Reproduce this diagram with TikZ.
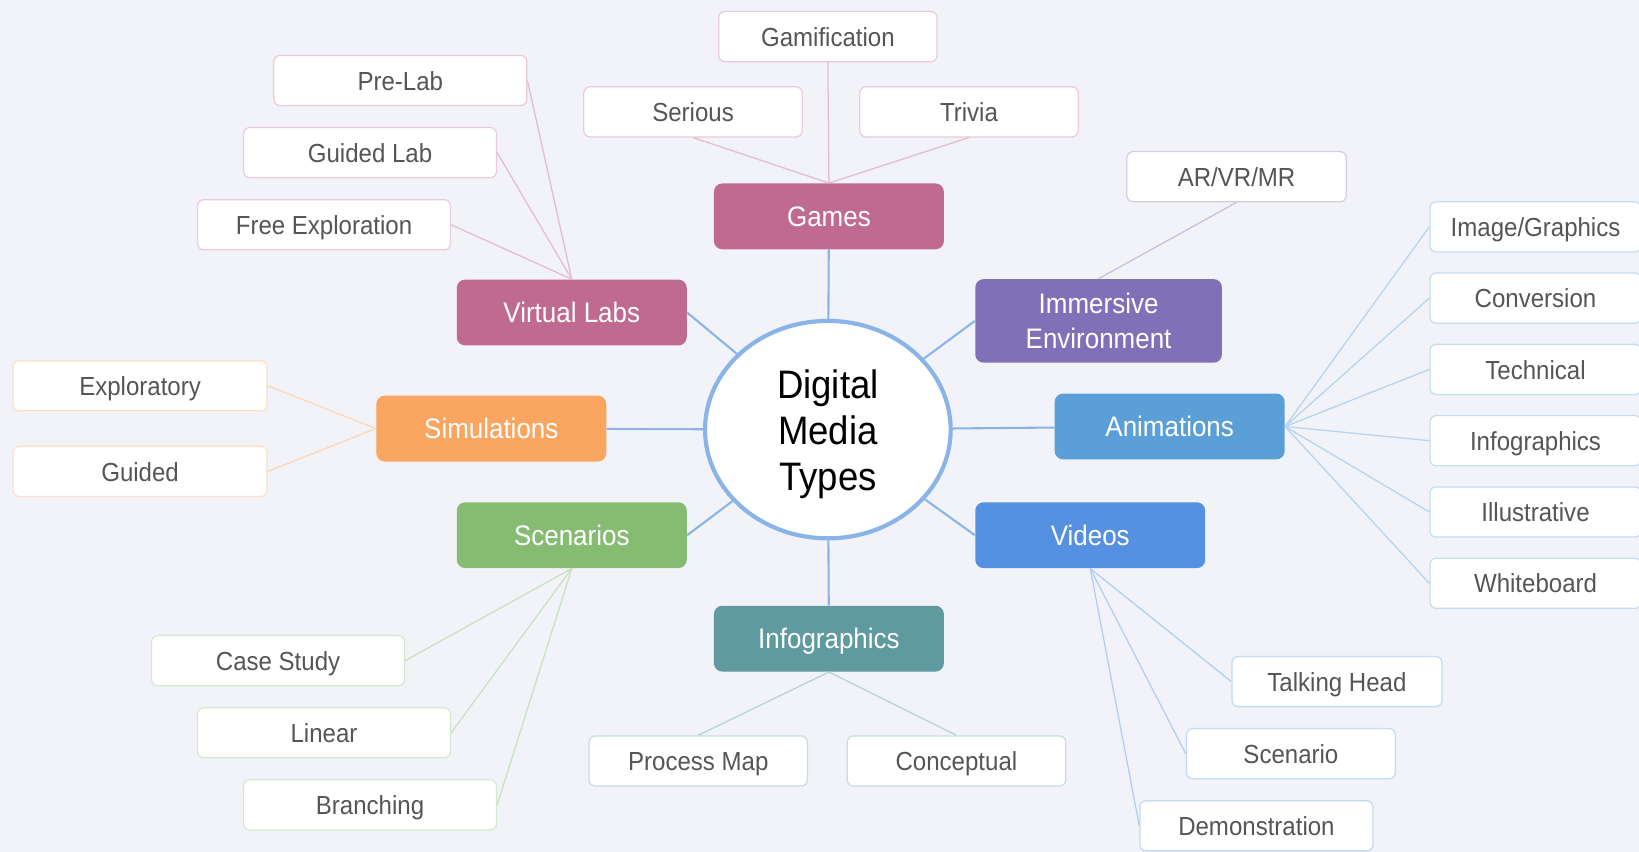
\documentclass[tikz,border=0pt]{standalone}
\usepackage{fontspec}
\setmainfont{Liberation Sans}[FakeStretch=0.92]
\usetikzlibrary{shapes.geometric}

\definecolor     {bgColor}{RGB}{241, 243, 248}
\definecolor    {hubColor}{RGB}{138, 180, 232}
\definecolor    {leafText}{RGB}{ 85,  85,  85}
\definecolor  {gamesColor}{RGB}{192, 106, 145}
\definecolor  {immerColor}{RGB}{128, 112, 184}
\definecolor    {simColor}{RGB}{250, 166,  96}
\definecolor   {animColor}{RGB}{ 90, 159, 216}
\definecolor   {scenColor}{RGB}{134, 188, 114}
\definecolor  {videoColor}{RGB}{ 85, 145, 224}
\definecolor   {infoColor}{RGB}{ 94, 154, 160}
\tikzset{
  topic/.style={rectangle, rounded corners=4pt, fill=#1, text=white, align=center,
    minimum width=110pt, minimum height=31.5pt, inner sep=0pt,
    text height=11pt, text depth=1.3pt,
    font=\fontsize{13.5}{16.5}\selectfont},
  leaf/.style n args={2}{rectangle, rounded corners=3pt, fill=white, draw=#1!35,
    line width=0.6pt, minimum width=#2, minimum height=24pt, inner sep=0pt,
    text height=10.2pt, text depth=1pt,
    text=leafText, font=\fontsize{12.5}{14}\selectfont}}

\begin{document}
\begin{tikzpicture}[
  x=0.5pt, y=-0.5pt,
  hub link/.style={draw=hubColor, line width=1pt},
  twig/.style    ={draw=#1!45, line width=0.6pt},
]
%%%%%%%%%%%%%%%%%%%%%%%%%%%%%%%%%%%%%%%%%%%%%%%%%%%%%%%%%%%%%%%%%%%%%%%%%%%%%%%%%%%%%%%%%
%
%   CANVAS
%
%%%%%%%%%%%%%%%%%%%%%%%%%%%%%%%%%%%%%%%%%%%%%%%%%%%%%%%%%%%%%%%%%%%%%%%%%%%%%%%%%%%%%%%%%
\fill[bgColor] (0,0) rectangle (1568,815);
\useasboundingbox (0,0) rectangle (1568,815);

%%%%%%%%%%%%%%%%%%%%%%%%%%%%%%%%%%%%%%%%%%%%%%%%%%%%%%%%%%%%%%%%%%%%%%%%%%%%%%%%%%%%%%%%%
%
%   HUB + TOPICS
%
%%%%%%%%%%%%%%%%%%%%%%%%%%%%%%%%%%%%%%%%%%%%%%%%%%%%%%%%%%%%%%%%%%%%%%%%%%%%%%%%%%%%%%%%%
\node[ellipse, draw=hubColor, line width=2pt, fill=white, align=center,
      minimum width=117.5pt, minimum height=104pt, inner sep=0pt,
      text height=62pt, text depth=4pt,
      font=\fontsize{19}{22}\selectfont] (hub) at (792,411) {Digital\\Media\\Types};

\node[topic=gamesColor] (games)  at (793,207)  {Games};
\node[topic=gamesColor] (vlabs)  at (547,299)  {Virtual Labs};
\node[topic=immerColor, minimum width=118pt, minimum height=40pt, text height=, text depth=]
                        (immer)  at (1051,307) {Immersive\\Environment};
\node[topic=simColor]   (sims)   at (470,410)  {Simulations};
\node[topic=animColor]  (anims)  at (1119,408) {Animations};
\node[topic=scenColor]  (scens)  at (547,512)  {Scenarios};
\node[topic=videoColor] (videos) at (1043,512) {Videos};
\node[topic=infoColor]  (infos)  at (793,611)  {Infographics};

\draw[hub link] (games)       -- (hub);
\draw[hub link] (vlabs.east)  -- (hub);
\draw[hub link] (immer.west)  -- (hub);
\draw[hub link] (sims)        -- (hub);
\draw[hub link] (anims)       -- (hub);
\draw[hub link] (scens.east)  -- (hub);
\draw[hub link] (videos.west) -- (hub);
\draw[hub link] (infos)       -- (hub);

%%%%%%%%%%%%%%%%%%%%%%%%%%%%%%%%%%%%%%%%%%%%%%%%%%%%%%%%%%%%%%%%%%%%%%%%%%%%%%%%%%%%%%%%%
%
%   LEAVES
%
%%%%%%%%%%%%%%%%%%%%%%%%%%%%%%%%%%%%%%%%%%%%%%%%%%%%%%%%%%%%%%%%%%%%%%%%%%%%%%%%%%%%%%%%%
% games
\foreach \nm/\px/\py/\txt in {gamif/792/35/Gamification, serious/663/107/Serious, trivia/927/107/Trivia}{
  \node[leaf={gamesColor}{104.5pt}] (\nm) at (\px,\py) {\txt};
  \draw[twig=gamesColor] (\nm.south) -- (games.north);
}

% virtual labs
\foreach \nm/\px/\py/\txt in {prelab/383/77/Pre-Lab, guidedlab/354/146/Guided Lab, freeexp/310/215/Free Exploration}{
  \node[leaf={gamesColor}{121pt}] (\nm) at (\px,\py) {\txt};
  \draw[twig=gamesColor] (\nm.east) -- (vlabs.north);
}

% immersive
\node[leaf={immerColor}{105pt}] (arvr) at (1183,169) {AR/VR/MR};
\draw[twig=immerColor] (arvr.south) -- (immer.north);

% simulations
\foreach \nm/\py/\txt in {explor/369/Exploratory, guided/451/Guided}{
  \node[leaf={simColor}{121.5pt}] (\nm) at (134,\py) {\txt};
  \draw[twig=simColor] (\nm.east) -- (sims.west);
}

% animations
\foreach \txt [count=\i] in {Image/Graphics, Conversion, Technical, Infographics, Illustrative, Whiteboard}{
  \node[leaf={animColor}{101pt}] (anim\i) at (1469,{217+68.2*(\i-1)}) {\txt};
  \draw[twig=animColor] (anims.east) -- (anim\i.west);
}

% scenarios
\foreach \nm/\px/\py/\txt in {casestudy/266/632/Case Study, linear/310/701/Linear, branching/354/770/Branching}{
  \node[leaf={scenColor}{121pt}] (\nm) at (\px,\py) {\txt};
  \draw[twig=scenColor] (\nm.east) -- (scens.south);
}

% infographics
\foreach \nm/\px/\txt in {procmap/668/Process Map, concept/915/Conceptual}{
  \node[leaf={infoColor}{104.5pt}] (\nm) at (\px,728) {\txt};
  \draw[twig=infoColor] (\nm.north) -- (infos.south);
}

% videos
\foreach \nm/\px/\py/\bw/\txt in {talking/1279/652/100.5pt/Talking Head, scenario/1235/721/100pt/Scenario, demo/1202/790/111.5pt/Demonstration}{
  \node[leaf={videoColor}{\bw}] (\nm) at (\px,\py) {\txt};
  \draw[twig=videoColor] (\nm.west) -- (videos.south);
}

\end{tikzpicture}
\end{document}
